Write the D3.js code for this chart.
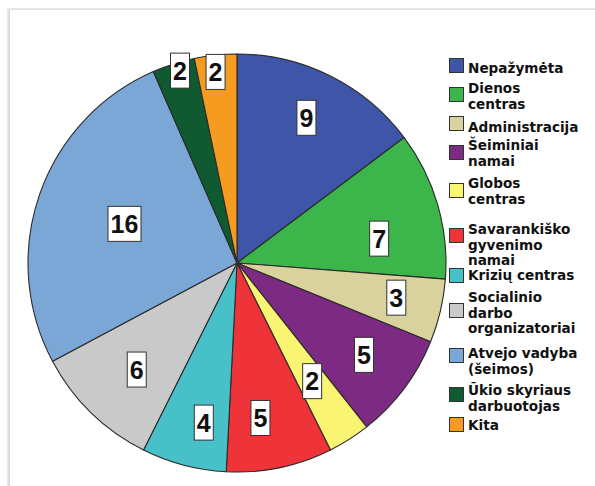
<!DOCTYPE html>
<html><head><meta charset="utf-8">
<script src="https://cdn.jsdelivr.net/npm/d3@7"></script>
<style>html,body{margin:0;padding:0;background:#fff;}svg{display:block;}</style>
</head><body>
<svg id="chart" width="595" height="486"></svg>
<script>
const categories = ["Nepažymėta","Dienos centras","Administracija","Šeiminiai namai","Globos centras","Savarankiško gyvenimo namai","Krizių centras","Socialinio darbo organizatoriai","Atvejo vadyba (šeimos)","Ūkio skyriaus darbuotojas","Kita"];
const legendLines = [["Nepažymėta"],["Dienos","centras"],["Administracija"],["Šeiminiai","namai"],["Globos","centras"],["Savarankiško","gyvenimo","namai"],["Krizių centras"],["Socialinio","darbo","organizatoriai"],["Atvejo vadyba","(šeimos)"],["Ūkio skyriaus","darbuotojas"],["Kita"]];
const values = [9,7,3,5,2,5,4,6,16,2,2];
const colors = ["#3f56a8","#3cb54b","#d9d29d","#7d2a82","#f9f472","#ee3439","#47c1c7","#c9c9c9","#7ba7d7","#0f5a31","#f59b1f"];
const labelRadius = [0.77,0.69,0.78,0.75,0.67,0.75,0.78,0.70,0.57,0.96,0.92];
const labelAngleNudge = [-1,6.5,-1,-1,0,3.2,-3,-1,0,1.2,-0.5];

const svg = d3.select("#chart");
// card shadow
svg.append("rect").attr("x",7).attr("y",8).attr("width",600).attr("height",490).attr("fill","#e8e8e8");
svg.append("rect").attr("x",8.5).attr("y",9.5).attr("width",600).attr("height",490).attr("fill","#dadada");
svg.append("rect").attr("x",10).attr("y",10).attr("width",600).attr("height",490).attr("fill","#ffffff");

const cx = 237, cy = 263, R = 209;
const pie = d3.pie().sort(null).value(d => d);
const arcs = pie(values);
const arc = d3.arc().innerRadius(0).outerRadius(R);
const g = svg.append("g").attr("transform",`translate(${cx},${cy})`);
g.selectAll("path").data(arcs).join("path")
  .attr("d", arc)
  .attr("fill", (d,i) => colors[i])
  .attr("stroke", "#2b2b2b").attr("stroke-width", 1.1).attr("stroke-linejoin","round");

const lab = g.selectAll("g.lab").data(arcs).join("g").attr("class","lab")
  .attr("transform", (d,i) => {
    const r = R * labelRadius[i];
    const nud = labelAngleNudge[i] * Math.PI / 180;
    const c = d3.arc().innerRadius(r).outerRadius(r)
      .centroid({startAngle: d.startAngle + nud, endAngle: d.endAngle + nud});
    return `translate(${c[0]},${c[1]})`;
  });
lab.each(function(d,i){
  const s = String(values[i]);
  const w = s.length > 1 ? 33 : 19;
  const h = 35;
  const el = d3.select(this);
  el.append("rect").attr("x",-w/2).attr("y",-h/2).attr("width",w).attr("height",h)
    .attr("fill","#fff").attr("stroke","#333").attr("stroke-width",1);
  el.append("text").attr("text-anchor","middle").attr("y",9)
    .attr("font-family","Liberation Sans, Arial, sans-serif").attr("font-weight","bold")
    .attr("font-size",25).attr("fill","#111").text(s);
});

// legend
const swY = [58,87,116,145,183,228,268,303,348,387,417];
const leg = svg.append("g");
const itemY = d3.scaleOrdinal().domain(categories).range(swY);
categories.forEach((c,i) => {
  const y = itemY(c);
  leg.append("rect").attr("x",449.5).attr("y",y+0.5).attr("width",14).attr("height",14)
    .attr("fill",colors[i]).attr("stroke","#333").attr("stroke-width",1);
});
const firstBase = [73,93,132,150,188,234,280,302,358,395,430];
categories.forEach((c,i) => {
  const t = leg.append("text").attr("x",468).attr("y",firstBase[i])
    .attr("font-family","DejaVu Sans, Verdana, sans-serif").attr("font-weight","bold")
    .attr("font-size",13.6).attr("fill","#111");
  legendLines[i].forEach((ln,j) => {
    t.append("tspan").attr("x",468).attr("dy", j===0?0:15.5).text(ln);
  });
});
</script>
</body></html>
